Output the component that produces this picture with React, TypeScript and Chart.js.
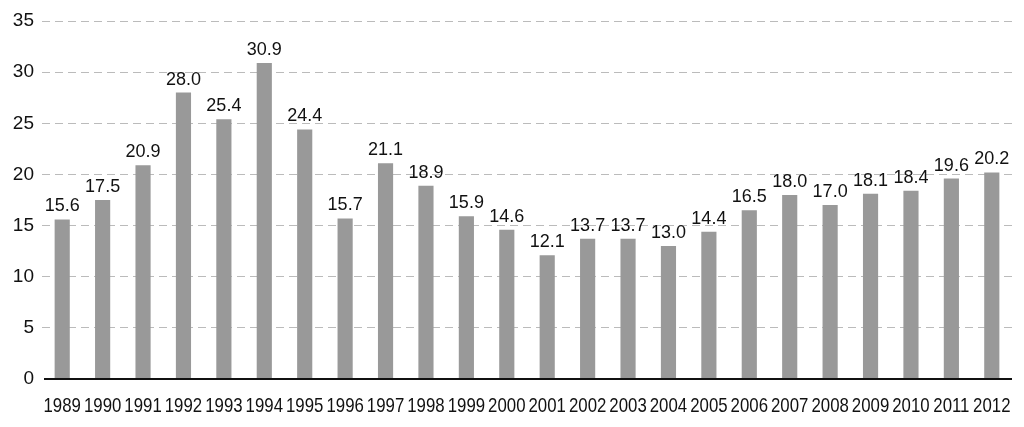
import React, { useEffect, useRef } from "react";
import { Chart, registerables } from "chart.js";

Chart.register(...registerables);

const years = ["1989","1990","1991","1992","1993","1994","1995","1996","1997","1998","1999","2000","2001","2002","2003","2004","2005","2006","2007","2008","2009","2010","2011","2012"];
const values = [15.6,17.5,20.9,28.0,25.4,30.9,24.4,15.7,21.1,18.9,15.9,14.6,12.1,13.7,13.7,13.0,14.4,16.5,18.0,17.0,18.1,18.4,19.6,20.2];
const yTicks = [0,5,10,15,20,25,30,35];

const FONT = "'Liberation Sans', Arial, sans-serif";

const labelPlugin = {
  id: "barLabels",
  afterDatasetsDraw(chart: any) {
    const ctx = chart.ctx;
    const meta = chart.getDatasetMeta(0);
    ctx.save();
    ctx.font = `18px ${FONT}`;
    ctx.fillStyle = "#111";
    ctx.textAlign = "center";
    ctx.textBaseline = "alphabetic";
    meta.data.forEach((el: any, i: number) => {
      ctx.fillText(values[i].toFixed(1), el.x, el.y - 8);
    });
    ctx.restore();
  },
};

const xLabelPlugin = {
  id: "xLabels",
  afterDraw(chart: any) {
    const ctx = chart.ctx;
    const xs = chart.scales.x;
    const y = chart.chartArea.bottom + 33;
    ctx.save();
    ctx.font = `21px ${FONT}`;
    ctx.fillStyle = "#111";
    ctx.textAlign = "center";
    ctx.textBaseline = "alphabetic";
    years.forEach((lab, i) => {
      const x = xs.getPixelForValue(i);
      ctx.save();
      ctx.translate(x, y);
      ctx.scale(0.8, 1);
      ctx.fillText(lab, 0, 0);
      ctx.restore();
    });
    ctx.restore();
  },
};

const zeroLinePlugin = {
  id: "zeroLine",
  afterDatasetsDraw(chart: any) {
    const ctx = chart.ctx;
    const y = chart.scales.y.getPixelForValue(0);
    ctx.save();
    ctx.strokeStyle = "#111";
    ctx.lineWidth = 2;
    ctx.beginPath();
    ctx.moveTo(chart.chartArea.left + 2, y);
    ctx.lineTo(chart.chartArea.right, y);
    ctx.stroke();
    ctx.restore();
  },
};

export default function App() {
  const ref = useRef<HTMLCanvasElement>(null);
  useEffect(() => {
    document.body.style.margin = "0";
    const chart = new Chart(ref.current!, {
      type: "bar",
      data: {
        labels: years,
        datasets: [
          {
            data: values,
            backgroundColor: "#999999",
            barPercentage: 0.75,
            categoryPercentage: 0.5,
          },
        ],
      },
      options: {
        animation: false,
        responsive: false,
        layout: { padding: { top: 21, right: 12, left: 0, bottom: 0 } },
        plugins: { legend: { display: false }, tooltip: { enabled: false } },
        scales: {
          x: {
            grid: { display: false },
            border: { display: false },
            ticks: { display: false },
            afterFit: (s: any) => { s.height = 48; },
          },
          y: {
            min: 0,
            max: 35,
            afterBuildTicks: (s: any) => { s.ticks = yTicks.map((v) => ({ value: v })); },
            grid: {
              color: (c: any) => (c.tick && c.tick.value === 0 ? "rgba(0,0,0,0)" : "#bbbbbb"),
              drawTicks: false,
              lineWidth: 1,
            },
            border: { display: false, dash: [8, 5] },
            ticks: { color: "#111", font: { family: FONT, size: 19 }, padding: 8 },
            afterFit: (s: any) => { s.width = 42; },
          },
        },
      },
      plugins: [labelPlugin, xLabelPlugin, zeroLinePlugin],
    });
    return () => chart.destroy();
  }, []);
  return <canvas ref={ref} width={1024} height={427} style={{ display: "block" }} />;
}
